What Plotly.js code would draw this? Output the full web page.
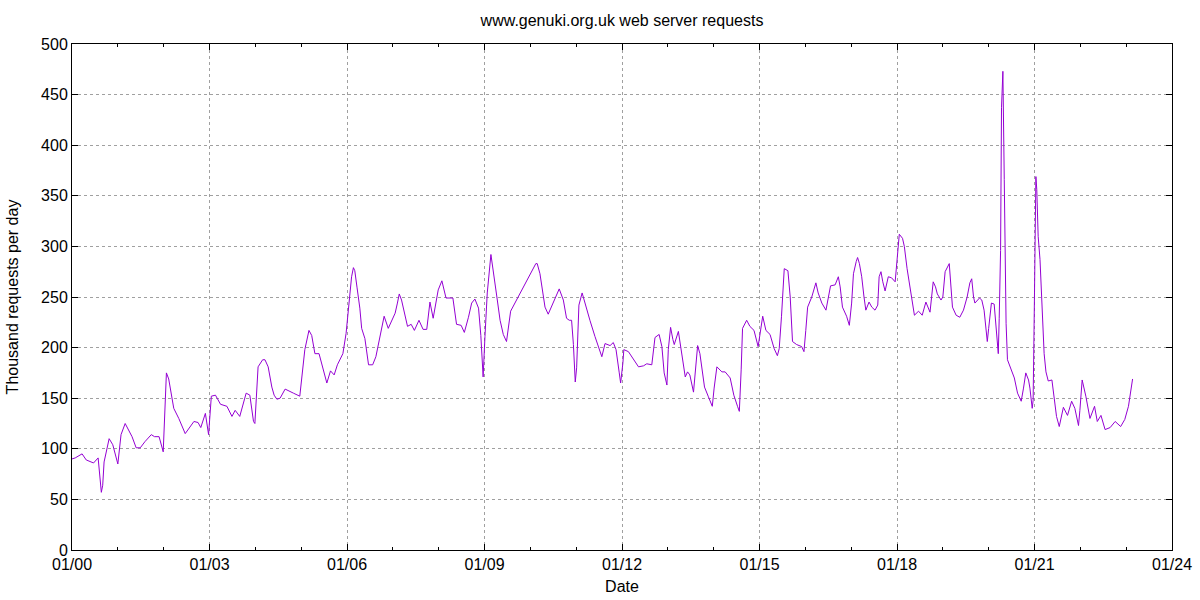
<!DOCTYPE html>
<html>
<head>
<meta charset="utf-8">
<script src="https://cdn.plot.ly/plotly-3.0.1.min.js"></script>
<style>
  body { margin: 0; background: #fff; }
  #chart { width: 1200px; height: 600px; }
</style>
</head>
<body>
<div id="chart"></div>
<script>
// Dates as decimal years
const years = [
  2000.00, 2000.07, 2000.22, 2000.31, 2000.47, 2000.57, 2000.64, 2000.67, 2000.70, 2000.81, 2000.89,
  2001.00, 2001.07, 2001.16, 2001.31, 2001.40, 2001.49, 2001.59, 2001.73, 2001.80, 2001.90, 2001.99,
  2002.06, 2002.11, 2002.22, 2002.33, 2002.47, 2002.66, 2002.75, 2002.81, 2002.91, 2002.98,
  2003.04, 2003.13, 2003.24, 2003.38, 2003.49, 2003.56, 2003.66, 2003.80, 2003.88, 2003.96, 2003.99,
  2004.06, 2004.16, 2004.21, 2004.28, 2004.36, 2004.41, 2004.47, 2004.54, 2004.65, 2004.83, 2004.97,
  2005.08, 2005.17, 2005.23, 2005.30, 2005.39, 2005.47, 2005.56, 2005.64, 2005.72, 2005.79, 2005.91, 2005.98,
  2006.04, 2006.10, 2006.14, 2006.17, 2006.22, 2006.28, 2006.32, 2006.39, 2006.47, 2006.56, 2006.63,
  2006.68, 2006.74, 2006.81, 2006.90, 2006.98,
  2007.05, 2007.10, 2007.14, 2007.19, 2007.24, 2007.32, 2007.40, 2007.47, 2007.57, 2007.66, 2007.74,
  2007.81, 2007.88, 2007.99,
  2008.07, 2008.16, 2008.31, 2008.39, 2008.49, 2008.56, 2008.65, 2008.72, 2008.79, 2008.87, 2008.92,
  2008.95, 2008.97,
  2009.01, 2009.06, 2009.14, 2009.19, 2009.27, 2009.34, 2009.41, 2009.48, 2009.57,
  2010.12, 2010.15, 2010.21, 2010.32, 2010.39, 2010.50, 2010.63, 2010.72, 2010.79, 2010.85, 2010.90,
  2010.94, 2010.98,
  2011.01, 2011.06, 2011.13, 2011.19, 2011.30, 2011.41, 2011.56, 2011.63, 2011.74, 2011.81, 2011.87,
  2011.94, 2011.97,
  2012.02, 2012.04, 2012.14, 2012.25, 2012.36, 2012.47, 2012.54, 2012.65, 2012.72, 2012.81, 2012.87,
  2012.92, 2012.98,
  2013.01, 2013.06, 2013.11, 2013.14, 2013.23, 2013.30, 2013.38, 2013.43, 2013.48, 2013.56, 2013.61,
  2013.65, 2013.70, 2013.80, 2013.88, 2013.97,
  2014.01, 2014.07, 2014.18, 2014.25, 2014.36, 2014.44, 2014.52, 2014.56, 2014.60, 2014.63, 2014.72,
  2014.79, 2014.88, 2014.97,
  2015.07, 2015.14, 2015.23, 2015.32, 2015.39, 2015.43, 2015.48, 2015.54, 2015.62, 2015.67, 2015.72,
  2015.81, 2015.92, 2015.97,
  2016.01, 2016.05, 2016.14, 2016.23, 2016.28, 2016.36, 2016.45, 2016.52, 2016.55, 2016.65, 2016.72,
  2016.76, 2016.81, 2016.90, 2016.96,
  2017.01, 2017.05, 2017.11, 2017.14, 2017.18, 2017.23, 2017.28, 2017.32, 2017.39, 2017.45, 2017.52,
  2017.58, 2017.61, 2017.65, 2017.69, 2017.74, 2017.81, 2017.88, 2017.96, 2017.99,
  2018.05, 2018.12, 2018.16, 2018.22, 2018.28, 2018.34, 2018.38, 2018.47, 2018.55, 2018.63, 2018.72,
  2018.79, 2018.84, 2018.88, 2018.96, 2019.00,
  2019.05, 2019.14, 2019.21, 2019.29, 2019.37, 2019.45, 2019.53, 2019.59, 2019.63, 2019.67, 2019.70,
  2019.80, 2019.85, 2019.90, 2019.97,
  2020.00, 2020.06, 2020.12, 2020.15, 2020.19, 2020.21, 2020.23, 2020.26, 2020.28, 2020.31, 2020.34,
  2020.36, 2020.38, 2020.41, 2020.50, 2020.56, 2020.63, 2020.71, 2020.76, 2020.81, 2020.87, 2020.90,
  2020.95, 2020.97,
  2021.00, 2021.03, 2021.05, 2021.06, 2021.08, 2021.12, 2021.16, 2021.21, 2021.25, 2021.30, 2021.38,
  2021.43, 2021.48, 2021.54, 2021.63, 2021.72, 2021.81, 2021.88, 2021.96, 2021.99,
  2022.04, 2022.12, 2022.21, 2022.31, 2022.37, 2022.45, 2022.54, 2022.65, 2022.76, 2022.88, 2022.97,
  2023.05, 2023.14
];

// Thousand requests per day
const requests = [
  90, 91, 95, 89, 86, 91, 57, 64, 87, 110, 104,
  85, 114, 125, 112, 101, 101, 107, 114, 112, 112, 97,
  175, 169, 140, 130, 115, 127, 126, 121, 135, 114,
  152, 153, 144, 142, 132, 138, 132, 155, 153, 127, 125,
  181, 188, 188, 181, 161, 153, 149, 150, 159, 155, 152,
  198, 217, 212, 194, 194, 179, 165, 177, 173, 183, 194, 214,
  239, 270, 279, 276, 259, 239, 219, 209, 183, 183, 191,
  203, 216, 231, 219, 227,
  234, 244, 253, 247, 237, 221, 223, 217, 227, 218, 218,
  245, 229, 257,
  266, 249, 249, 223, 222, 215, 230, 244, 248, 239, 212,
  181, 171,
  211, 254, 292, 277, 250, 227, 213, 206, 236,
  283, 283, 273, 240, 233, 244, 258, 247, 229, 227, 227,
  203, 166,
  180, 242, 254, 244, 227, 211, 191, 204, 202, 205, 198,
  175, 165,
  185, 198, 196, 188, 181, 182, 184, 183, 210, 213, 201,
  175, 163,
  198, 220, 208, 203, 216, 196, 171, 176, 173, 156, 185,
  202, 194, 161, 152, 142,
  160, 181, 176, 176, 170, 153, 142, 137, 178, 219, 227,
  221, 217, 201,
  231, 217, 213, 199, 192, 199, 231, 278, 276, 250, 206,
  203, 201, 196,
  217, 240, 250, 264, 254, 244, 237, 257, 261, 262, 270,
  260, 240, 231, 222,
  244, 273, 285, 289, 283, 270, 250, 237, 245, 240, 237,
  242, 270, 275, 265, 256, 270, 269, 265, 280,
  312, 308, 300, 278, 262, 245, 232, 236, 232, 245, 235,
  265, 260, 253, 247, 250,
  275, 283, 240, 232, 230, 237, 250, 264, 268, 250, 244,
  249, 247, 237, 206,
  219, 244, 243, 224, 201, 194, 229, 296, 437, 473, 366,
  296, 224, 188, 178, 170, 155, 147, 160, 175, 168, 160,
  140, 148,
  254, 369, 356, 333, 310, 287, 240, 194, 176, 167, 168,
  152, 132, 122, 141, 133, 147, 140, 123, 138,
  168, 152, 130, 142, 127, 133, 119, 121, 127, 122, 129,
  142, 169
];

const tickYears = [2000, 2003, 2006, 2009, 2012, 2015, 2018, 2021, 2024];
const tickLabels = ["01/00", "01/03", "01/06", "01/09", "01/12", "01/15", "01/18", "01/21", "01/24"];

const font = { family: "Liberation Sans, Arial, sans-serif", size: 16, color: "#000" };

const trace = {
  x: years,
  y: requests,
  type: "scatter",
  mode: "lines",
  line: { color: "#9400d3", width: 1 },
  hoverinfo: "x+y"
};

const layout = {
  width: 1200,
  height: 600,
  font: font,
  paper_bgcolor: "#fff",
  plot_bgcolor: "#fff",
  showlegend: false,
  margin: { l: 72, r: 28, t: 44, b: 50 },
  title: {
    text: "www.genuki.org.uk web server requests",
    font: font,
    x: 0.5,
    xref: "paper",
    y: 1 - 20 / 600,
    yref: "container",
    yanchor: "middle"
  },
  xaxis: {
    range: [2000, 2024],
    tickmode: "array",
    tickvals: tickYears,
    ticktext: tickLabels,
    ticks: "inside",
    ticklen: 6,
    tickcolor: "#000",
    showline: true,
    linecolor: "#000",
    linewidth: 1,
    mirror: "ticks",
    showgrid: true,
    gridcolor: "#a0a0a0",
    griddash: "dot",
    gridwidth: 1,
    zeroline: false,
    minor: { tickmode: "linear", tick0: 2000, dtick: 1, ticks: "inside", ticklen: 3, tickcolor: "#000", showgrid: false },
    title: { text: "Date", font: font, standoff: 8 }
  },
  yaxis: {
    range: [0, 500],
    dtick: 50,
    ticks: "inside",
    ticklen: 6,
    tickcolor: "#000",
    showline: true,
    linecolor: "#000",
    linewidth: 1,
    mirror: "ticks",
    showgrid: true,
    gridcolor: "#a0a0a0",
    griddash: "dot",
    gridwidth: 1,
    zeroline: false,
    title: { text: "Thousand requests per day", font: font, standoff: 18 }
  }
};

Plotly.newPlot("chart", [trace], layout, { displayModeBar: false, staticPlot: true });
</script>
</body>
</html>
